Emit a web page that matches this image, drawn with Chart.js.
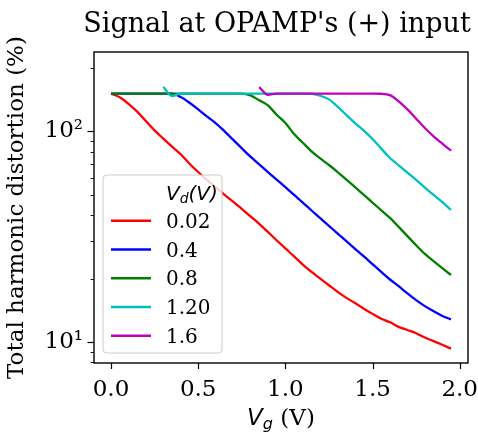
<!DOCTYPE html>
<html>
<head>
<meta charset="utf-8">
<script src="https://cdn.jsdelivr.net/npm/chart.js@4.4.1/dist/chart.umd.min.js"></script>
<style>
  html, body { margin: 0; padding: 0; background: #fff; }
</style>
</head>
<body>
<canvas id="thd" width="478" height="432"></canvas>
<script>
// gate voltage grid (V)
const vg = [0.00, 0.05, 0.10, 0.15, 0.20, 0.25, 0.30, 0.35, 0.40, 0.45,
            0.50, 0.55, 0.60, 0.65, 0.70, 0.75, 0.80, 0.85, 0.90, 0.95,
            1.00, 1.05, 1.10, 1.15, 1.20, 1.25, 1.30, 1.35, 1.40, 1.45,
            1.50, 1.55, 1.60, 1.65, 1.70, 1.75, 1.80, 1.85, 1.90, 1.95];

const vdLabels = ['0.02', '0.4', '0.8', '1.20', '1.6'];
const vdColors = ['#ff0000', '#0000ff', '#008000', '#00bfbf', '#bf00bf'];

// THD (%) per Vd
const thd002 = [151, 145, 135, 124, 112, 101, 92.3, 84.6, 77.8, 70.2,
                64.1, 58.8, 54.3, 50.1, 46.4, 42.8, 39.5, 36.4, 33.3, 30.4,
                27.8, 25.5, 23.3, 21.5, 20.0, 18.6, 17.3, 16.2, 15.3, 14.4,
                13.6, 12.9, 12.4, 11.8, 11.4, 11.0, 10.5, 10.1, 9.7, 9.3];
const thd04 = [151, 151, 151, 151, 151, 151, 151, 151, 145.4, 136.7,
               127.1, 117.7, 109.5, 100.3, 91.3, 83.1, 75.8, 69.7, 64.1, 59.0,
               54.3, 49.9, 45.9, 42.1, 38.7, 35.6, 32.7, 30.1, 27.7, 25.5,
               23.4, 21.5, 19.8, 18.4, 17.0, 15.8, 14.8, 14.0, 13.3, 12.8];
const thd08 = [151, 151, 151, 151, 151, 151, 151, 151, 151, 151,
               151, 151, 151, 151, 151, 151, 148.1, 140.3, 132.8, 119.9,
               109.5, 97.1, 88.3, 80.4, 74.4, 69.2, 64.1, 59.0, 54.3, 49.9,
               45.9, 42.2, 38.8, 35.2, 31.8, 28.8, 26.2, 24.2, 22.4, 20.8];
const thd12 = [null, null, null, null, null, null, 162.7, 147.0, 151, 151,
               151, 151, 151, 151, 151, 151, 151, 151, 151, 151,
               151, 151, 151, 150.8, 147.5, 141.8, 130.9, 119.5, 109.5, 100.7,
               91.9, 82.8, 74.7, 69.0, 63.7, 58.8, 54.1, 49.9, 46.1, 42.4];
const thd16 = [null, null, null, null, null, null, null, null, null, null,
               null, null, null, null, null, null, null, 162.2, 149.2, 151,
               151, 151, 151, 151, 151, 151, 151, 151, 151, 151,
               151, 150.8, 148.5, 138.7, 127.1, 114.8, 103.7, 94.7, 87.4, 80.9];

const xTicks = [0, 0.5, 1.0, 1.5, 2.0];
const yTicks = [8, 9, 10, 20, 30, 40, 50, 60, 70, 80, 90, 100, 200];
const yTickLabels = { 10: '10\u00b9', 100: '10\u00b2' };

const series = [thd002, thd04, thd08, thd12, thd16];
const serif = '"DejaVu Serif", "Liberation Serif", serif';
const mathFont = '"DejaVu Sans", sans-serif';

const datasets = series.map((s, i) => ({
    label: vdLabels[i],
    data: vg.map((x, j) => ({ x: x, y: s[j] })),
    borderColor: vdColors[i],
    backgroundColor: vdColors[i],
    borderWidth: 2.3,
    pointRadius: 0,
    cubicInterpolationMode: 'monotone',
    order: series.length - i,
}));

const decorations = {
    id: 'decorations',
    afterDraw(chart) {
        const ctx = chart.ctx;
        const a = chart.chartArea;
        const xs = chart.scales.x;
        const ys = chart.scales.y;
        ctx.save();
        ctx.strokeStyle = '#000';
        ctx.fillStyle = '#000';

        // tick marks
        ctx.lineWidth = 1.2;
        xs.ticks.forEach(t => {
            const p = Math.round(xs.getPixelForValue(t.value)) + 0.5;
            ctx.beginPath(); ctx.moveTo(p, a.bottom); ctx.lineTo(p, a.bottom + 6); ctx.stroke();
        });
        ys.ticks.forEach(t => {
            const major = yTickLabels[t.value] !== undefined;
            const p = Math.round(ys.getPixelForValue(t.value)) + 0.5;
            ctx.lineWidth = major ? 1.2 : 0.9;
            ctx.beginPath(); ctx.moveTo(a.left, p); ctx.lineTo(a.left - (major ? 6.5 : 3.5), p); ctx.stroke();
        });

        // frame
        ctx.lineWidth = 1.4;
        ctx.strokeRect(a.left, a.top, a.right - a.left, a.bottom - a.top);

        // title
        ctx.font = '27px ' + serif;
        ctx.textAlign = 'center';
        ctx.textBaseline = 'alphabetic';
        ctx.fillText("Signal at OPAMP's (+) input", 277, 32);

        // x label: V_g (V)
        const cx = (a.left + a.right) / 2;
        ctx.textAlign = 'left';
        const rest = ' (V)';
        ctx.font = 'italic 23px ' + mathFont;
        const wV = ctx.measureText('V').width;
        ctx.font = 'italic 16px ' + mathFont;
        const wg = ctx.measureText('g').width;
        ctx.font = '23px ' + serif;
        const wr = ctx.measureText(rest).width;
        const x0 = cx - (wV + wg + wr) / 2;
        const by = 425;
        ctx.font = 'italic 23px ' + mathFont;
        ctx.fillText('V', x0, by);
        ctx.font = 'italic 16px ' + mathFont;
        ctx.fillText('g', x0 + wV, by + 4);
        ctx.font = '23px ' + serif;
        ctx.fillText(rest, x0 + wV + wg, by);

        // y label
        ctx.save();
        ctx.translate(23, (a.top + a.bottom) / 2);
        ctx.rotate(-Math.PI / 2);
        ctx.textAlign = 'center';
        ctx.font = '23px ' + serif;
        ctx.fillText('Total harmonic distortion (%)', 0, 0);
        ctx.restore();

        // legend
        const lx = a.left + 9, ly = 175, lw = 119, lh = 178;
        ctx.beginPath();
        ctx.roundRect(lx, ly, lw, lh, 4);
        ctx.fillStyle = 'rgba(255,255,255,0.8)';
        ctx.fill();
        ctx.strokeStyle = '#cccccc';
        ctx.lineWidth = 1;
        ctx.stroke();

        const textX = lx + 63;
        const row0 = ly + 17;
        const step = 28.75;
        // title row: V_d(V)
        ctx.fillStyle = '#000';
        ctx.textAlign = 'left';
        ctx.font = 'italic 20px ' + mathFont;
        ctx.fillText('V', textX, row0 + 8);
        const tV = ctx.measureText('V').width;
        ctx.font = 'italic 14px ' + mathFont;
        ctx.fillText('d', textX + tV, row0 + 11);
        const td = ctx.measureText('d').width;
        ctx.font = 'italic 20px ' + mathFont;
        ctx.fillText('(V)', textX + tV + td, row0 + 8);

        chart.data.datasets.forEach((ds, i) => {
            const y = row0 + step * (i + 1);
            ctx.strokeStyle = ds.borderColor;
            ctx.lineWidth = 2.4;
            ctx.beginPath(); ctx.moveTo(lx + 8, y); ctx.lineTo(lx + 48, y); ctx.stroke();
            ctx.fillStyle = '#000';
            ctx.font = '20px ' + serif;
            ctx.fillText(ds.label, textX, y + 7);
        });
        ctx.restore();
    }
};

new Chart(document.getElementById('thd').getContext('2d'), {
    type: 'line',
    data: { datasets: datasets },
    options: {
        responsive: false,
        animation: false,
        layout: { padding: { left: 0, top: 52, right: 10, bottom: 0 } },
        scales: {
            x: {
                type: 'linear',
                min: -0.0975,
                max: 2.0475,
                afterBuildTicks: scale => { scale.ticks = xTicks.map(v => ({ value: v })); },
                afterFit: scale => {
                    scale.height = 69;
                    scale.paddingLeft = 0;
                    scale.paddingRight = 0;
                },
                grid: { display: true, drawOnChartArea: false, drawTicks: false },
                border: { display: false },
                ticks: {
                    padding: 13,
                    color: '#000',
                    font: { family: serif, size: 23 },
                    callback: v => v.toFixed(1),
                },
            },
            y: {
                type: 'logarithmic',
                min: 7.95,
                max: 238,
                afterBuildTicks: scale => { scale.ticks = yTicks.map(v => ({ value: v })); },
                afterFit: scale => {
                    scale.width = 94;
                    scale.paddingTop = 0;
                    scale.paddingBottom = 0;
                },
                grid: { display: true, drawOnChartArea: false, drawTicks: false },
                border: { display: false },
                ticks: {
                    autoSkip: false,
                    padding: 11,
                    color: '#000',
                    font: { family: serif, size: 23 },
                    callback: v => yTickLabels[v] || '',
                },
            },
        },
        plugins: {
            legend: { display: false },
            title: { display: false },
            tooltip: { enabled: false },
        },
    },
    plugins: [decorations],
});
</script>
</body>
</html>
